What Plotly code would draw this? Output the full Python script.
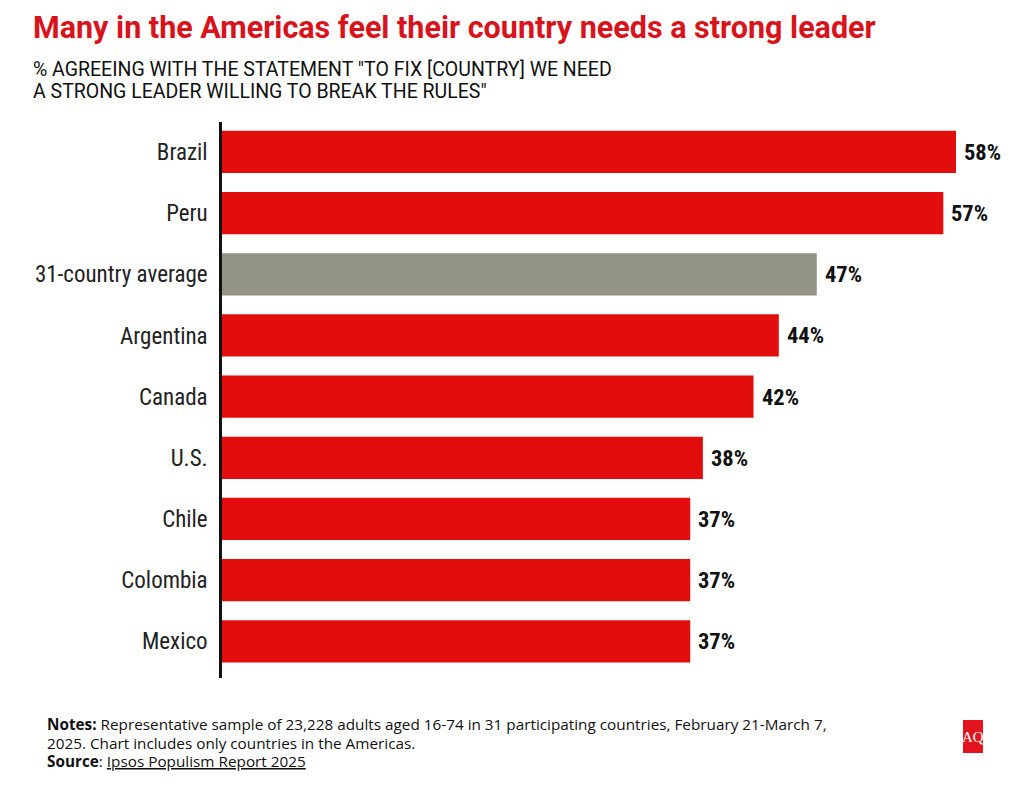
import plotly.graph_objects as go

countries = ["Brazil", "Peru", "31-country average", "Argentina", "Canada", "U.S.", "Chile", "Colombia", "Mexico"]
values = [58, 57, 47, 44, 42, 38, 37, 37, 37]
value_labels = ["58%", "57%", "47%", "44%", "42%", "38%", "37%", "37%", "37%"]

title = "Many in the Americas feel their country needs a strong leader"
subtitle_lines = ["% AGREEING WITH THE STATEMENT \"TO FIX [COUNTRY] WE NEED",
                  "A STRONG LEADER WILLING TO BREAK THE RULES\""]
note_lines = ["<b>Notes:</b> Representative sample of 23,228 adults aged 16-74 in 31 participating countries, February 21-March 7,",
              "2025. Chart includes only countries in the Americas.",
              "<b>Source</b>: <u>Ipsos Populism Report 2025</u>"]

RED = "#E20E0E"
GREY = "#939386"
colors = [GREY if c.startswith("31") else RED for c in countries]

OFF = 8  # page offset
W, H = 1024 - OFF, 791 - OFF
L, R = 222 - OFF, 20
T = 122 - OFF
B = H - (678 - OFF)
pw = W - L - R
ph = H - T - B

def px(x):
    return (x - OFF - L) / pw

def py(y):
    return (H - B - (y - OFF)) / ph

COND = "Roboto Condensed, Liberation Sans Narrow, Roboto, sans-serif"

fig = go.Figure()
fig.add_trace(go.Bar(
    y=countries, x=values, orientation="h",
    marker=dict(color=colors, line=dict(width=0)),
    width=0.69, hoverinfo="skip",
))

for c, v, t in zip(countries, values, value_labels):
    fig.add_annotation(x=v, y=c, xref="x", yref="y", text=t, showarrow=False,
                       xanchor="left", xshift=6,
                       font=dict(family=COND, size=22.5, color="#111111", weight="bold"))

fig.add_annotation(x=px(31), y=py(28), xref="paper", yref="paper", xanchor="left", yanchor="middle",
                   text="<b>" + title + "</b>", showarrow=False,
                   font=dict(family="Roboto, sans-serif", size=30.5, color="#D8131B"))
for i, line in enumerate(subtitle_lines):
    fig.add_annotation(x=px(31), y=py(70 + 21.5 * i), xref="paper", yref="paper", xanchor="left", yanchor="middle",
                       text=line, showarrow=False,
                       font=dict(family="Roboto, sans-serif", size=19.5, color="#111111"))
for i, line in enumerate(note_lines):
    fig.add_annotation(x=px(45), y=py(724 + 18.5 * i), xref="paper", yref="paper", xanchor="left", yanchor="middle",
                       text=line, showarrow=False,
                       font=dict(family="Open Sans, sans-serif", size=15.3, color="#111111"))

# AQ logo
fig.add_shape(type="rect", xref="paper", yref="paper", x0=px(963), x1=px(983), y0=py(753), y1=py(720),
              fillcolor="#E3141E", line=dict(width=0), layer="below")
fig.add_annotation(x=px(973), y=py(737), xref="paper", yref="paper", text="AQ", showarrow=False,
                   xanchor="center", yanchor="middle",
                   font=dict(family="Liberation Serif, serif", size=15, color="white"))

fig.update_layout(
    width=W, height=H,
    margin=dict(l=L, r=R, t=T, b=B),
    paper_bgcolor="white", plot_bgcolor="rgba(0,0,0,0)",
    showlegend=False,
    xaxis=dict(range=[0, pw / 12.655], visible=False, fixedrange=True),
    yaxis=dict(categoryorder="array", categoryarray=countries, range=[8.6, -0.49],
               showline=True, linecolor="#111111", linewidth=2.5, showgrid=False, zeroline=False,
               ticks="", ticklabelstandoff=7,
               tickfont=dict(family=COND, size=23, color="#222222")),
)

fig.write_html("out.html")
